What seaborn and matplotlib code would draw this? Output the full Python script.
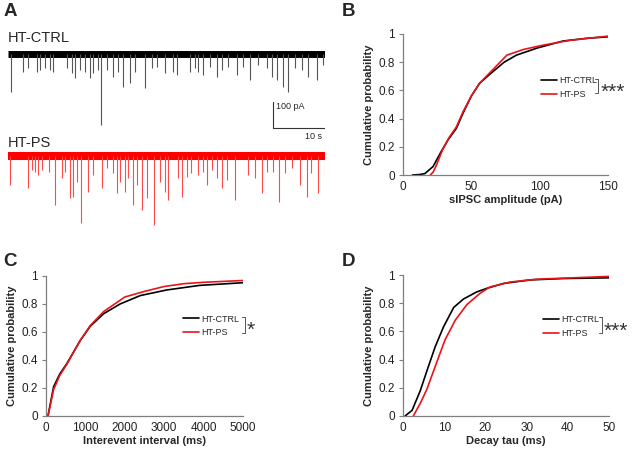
import numpy as np
import pandas as pd
import matplotlib
matplotlib.use("Agg")
import matplotlib.pyplot as plt
import seaborn as sns
from matplotlib.lines import Line2D

# ---- panel A: sIPSC events (time s, amplitude pA)
trace_len_s = 61
ctrl_t = [0.6, 2.9, 3.8, 5.5, 6.2, 7.1, 8.1, 8.7, 11.3, 12.3, 12.9, 13.9, 14.8, 15.8,
          16.4, 17.3, 17.9, 19.0, 20.2, 21.2, 22.1, 23.5, 24.4, 26.4, 27.7, 28.7, 30.2,
          31.7, 32.5, 35.0, 36.0, 36.6, 37.5, 38.9, 40.2, 41.2, 42.3, 44.1, 45.2, 46.6,
          48.1, 49.8, 50.8, 51.8, 52.9, 53.9, 55.2, 56.6, 57.7, 59.5, 60.6]
ctrl_amp = [145, 68, 54, 68, 62, 54, 62, 69, 54, 73, 92, 62, 69, 92,
            73, 62, 273, 62, 88, 69, 127, 112, 69, 131, 54, 50, 73,
            69, 81, 69, 54, 69, 81, 50, 88, 62, 50, 81, 50, 100,
            42, 54, 88, 100, 127, 146, 54, 62, 88, 100, 42]
ps_t = [0.4, 3.9, 4.6, 5.2, 5.8, 6.5, 7.8, 9.0, 10.3, 11.0, 11.9, 12.6, 13.2, 14.0,
        15.4, 16.4, 18.0, 19.0, 20.3, 20.9, 21.5, 22.5, 23.1, 24.1, 24.8, 25.7, 26.7,
        28.1, 29.2, 30.2, 30.8, 32.8, 33.4, 34.4, 35.3, 36.6, 37.6, 38.2, 39.2, 40.2,
        41.1, 42.1, 43.7, 46.2, 47.5, 48.8, 49.8, 51.0, 52.2, 53.3, 54.6, 56.2, 57.5,
        58.4, 59.7, 61.0]
ps_amp = [112, 123, 54, 62, 73, 54, 62, 188, 85, 62, 162, 158, 100, 258,
          138, 73, 123, 46, 65, 142, 100, 138, 85, 188, 112, 208, 162,
          265, 100, 138, 169, 85, 158, 81, 65, 73, 62, 112, 54, 85,
          123, 92, 169, 73, 85, 142, 62, 62, 177, 65, 46, 112, 158,
          65, 142, 73]

# ---- panels B-D: cumulative distributions
amp_ctrl_x = [7, 12, 16, 22, 27, 33, 39, 44, 50, 56, 63, 74, 83, 98, 117, 135, 150]
amp_ctrl_p = [0, 0.003, 0.01, 0.06, 0.15, 0.25, 0.33, 0.44, 0.56, 0.65, 0.71, 0.80,
              0.85, 0.90, 0.95, 0.97, 0.98]
amp_ps_x = [20, 22, 24, 29, 34, 39, 44, 50, 56, 63, 71, 76, 88, 102, 122, 150]
amp_ps_p = [0, 0.02, 0.06, 0.18, 0.27, 0.34, 0.45, 0.56, 0.65, 0.72, 0.80, 0.85,
            0.89, 0.92, 0.955, 0.985]

iei_ctrl_x = [50, 194, 350, 530, 870, 1120, 1460, 1880, 2390, 3060, 3900, 5000]
iei_ctrl_p = [0, 0.21, 0.30, 0.375, 0.54, 0.64, 0.73, 0.80, 0.86, 0.90, 0.933, 0.952]
iei_ps_x = [50, 194, 350, 530, 870, 1120, 1460, 2000, 2500, 3000, 3500, 4000, 5000]
iei_ps_p = [0, 0.19, 0.29, 0.37, 0.54, 0.645, 0.745, 0.85, 0.89, 0.925, 0.945, 0.955, 0.968]

tau_ctrl_x = [0.5, 2.2, 4.2, 5.8, 7.8, 9.8, 12.3, 14.7, 17.9, 20.3, 24.4, 30.8, 38.9, 50]
tau_ctrl_p = [0, 0.04, 0.18, 0.32, 0.49, 0.63, 0.77, 0.83, 0.88, 0.905, 0.94, 0.965,
              0.975, 0.98]
tau_ps_x = [2.5, 4.2, 5.8, 7.8, 10.2, 12.7, 15.5, 18.7, 21.1, 26, 32.3, 50]
tau_ps_p = [0, 0.09, 0.19, 0.35, 0.54, 0.68, 0.79, 0.87, 0.915, 0.95, 0.97, 0.99]

groups = ["HT-CTRL", "HT-PS"]
palette = {"HT-CTRL": "black", "HT-PS": "#e8141b"}

sns.set_style("white")
plt.rcParams["font.family"] = ["Liberation Sans", "DejaVu Sans"]

W, H = 638, 459
fig = plt.figure(figsize=(W / 100, H / 100), dpi=100)


def px_axes(left, top, right, bottom):
    return fig.add_axes([left / W, 1 - bottom / H, (right - left) / W, (bottom - top) / H])


def fx(x):
    return x / W


def fy(y):
    return 1 - y / H


# ---- A: traces
axA = px_axes(8, 30, 325, 232)
ps_offset = -392
axA.hlines(0, 0, trace_len_s, color="black", lw=5, capstyle="butt")
axA.vlines(ctrl_t, -np.array(ctrl_amp), 0, color="#555555", lw=0.8)
axA.hlines(ps_offset, 0, trace_len_s, color="#ff0000", lw=5.8, capstyle="butt")
axA.vlines(ps_t, ps_offset - np.array(ps_amp), ps_offset, color="#ff4a4a", lw=0.8)
axA.set_xlim(0, trace_len_s)
axA.set_ylim(-685, 92)
axA.axis("off")
# scale bar 10 s / 100 pA
axA.plot([51, 51, 61], [-185, -285, -285], color="#333333", lw=0.8)
axA.text(51.6, -204, "100 pA", fontsize=6.5, va="center", ha="left")
axA.text(58.7, -319, "10 s", fontsize=6.5, va="center", ha="center")
fig.text(fx(8), fy(38), "HT-CTRL", fontsize=10.5, va="center", ha="left")
fig.text(fx(8), fy(143), "HT-PS", fontsize=10.5, va="center", ha="left")


def cdf_panel(ax, xc, pc, xp, pp, xlim, xticks, xlabel, leg_xy, bracket, stars, star_xy):
    df = pd.DataFrame({
        "x": list(xc) + list(xp),
        "p": list(pc) + list(pp),
        "group": ["HT-CTRL"] * len(xc) + ["HT-PS"] * len(xp),
    })
    sns.lineplot(data=df, x="x", y="p", hue="group", hue_order=groups, palette=palette,
                 estimator=None, sort=False, lw=1.2, ax=ax)
    ax.set_xlim(*xlim)
    ax.set_ylim(0, 1)
    ax.set_xticks(xticks)
    ax.set_yticks([0, 0.2, 0.4, 0.6, 0.8, 1])
    ax.set_yticklabels(["0", "0.2", "0.4", "0.6", "0.8", "1"])
    ax.set_xlabel(xlabel, fontsize=8, fontweight="bold", labelpad=2)
    ax.set_ylabel("Cumulative probability", fontsize=8, fontweight="bold", labelpad=3)
    for s in ["top", "right"]:
        ax.spines[s].set_visible(False)
    for s in ["left", "bottom"]:
        ax.spines[s].set_color("#7f7f7f")
        ax.spines[s].set_linewidth(0.9)
    ax.tick_params(axis="y", length=3, width=0.8, color="#7f7f7f", pad=3,
                   labelsize=8.5, labelcolor="#222222", left=True)
    ax.tick_params(axis="x", length=0, pad=4, labelsize=8.5, labelcolor="#222222")
    handles, labels = ax.get_legend_handles_labels()
    ax.legend(handles, labels, loc="center left",
              bbox_to_anchor=(fx(leg_xy[0]), fy(leg_xy[1])), bbox_transform=fig.transFigure,
              frameon=False, fontsize=6.5, handlelength=1.8, handletextpad=0.2,
              labelspacing=0.55, borderpad=0, borderaxespad=0)
    bx, btop, bbot = bracket
    fig.add_artist(Line2D([fx(bx - 3), fx(bx), fx(bx), fx(bx - 3)],
                          [fy(btop), fy(btop), fy(bbot), fy(bbot)],
                          color="#555555", lw=0.7))
    fig.text(fx(star_xy[0]), fy(star_xy[1]), stars, fontsize=15, ha="left", va="center",
             color="#333333")


axB = px_axes(403, 34, 608, 175)
cdf_panel(axB, amp_ctrl_x, amp_ctrl_p, amp_ps_x, amp_ps_p, (0, 150), [0, 50, 100, 150],
          "sIPSC amplitude (pA)", (541, 87.5), (598, 79, 93), "***", (601, 92))

axC = px_axes(46, 276, 243, 416)
cdf_panel(axC, iei_ctrl_x, iei_ctrl_p, iei_ps_x, iei_ps_p, (0, 5000),
          [0, 1000, 2000, 3000, 4000, 5000],
          "Interevent interval (ms)", (183, 326), (245, 317, 333), "*", (247, 330))

axD = px_axes(403, 275, 609, 416)
cdf_panel(axD, tau_ctrl_x, tau_ctrl_p, tau_ps_x, tau_ps_p, (0, 50), [0, 10, 20, 30, 40, 50],
          "Decay tau (ms)", (543, 326.5), (602, 317, 333), "***", (604, 331))

# panel letters
for letter, (x, y) in {"A": (4, 12), "B": (342, 11), "C": (3, 262), "D": (342, 262)}.items():
    fig.text(fx(x), fy(y), letter, fontsize=13.5, fontweight="bold", ha="left", va="center")

fig.savefig("out.png", dpi=100)
